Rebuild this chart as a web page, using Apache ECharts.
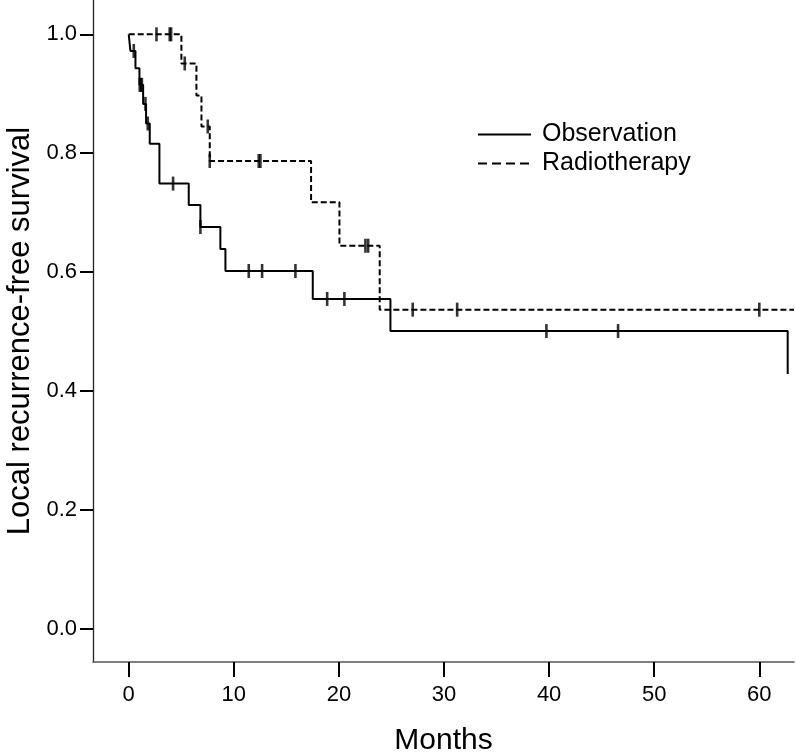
<!DOCTYPE html>
<html>
<head>
<meta charset="utf-8">
<script src="https://cdn.jsdelivr.net/npm/echarts@6/dist/echarts.min.js"></script>
<style>html,body{margin:0;padding:0;background:#fff}#c{width:796px;height:753px}</style>
</head>
<body>
<div id="c"></div>
<script>
// Observation group: event times (months) and survival after each step
const obsT = [0, 0.16, 0.64, 1.02, 1.37, 1.65, 2.0, 2.92, 5.71, 6.82, 8.72, 9.2, 17.51, 24.9, 62.7];
const obsS = [1.0, 0.972, 0.943, 0.915, 0.883, 0.850, 0.816, 0.749, 0.713, 0.676, 0.639, 0.602, 0.555, 0.501, 0.429];
const obsCensT = [0.48, 1.05, 1.15, 1.25, 1.59, 1.81, 4.22, 6.82, 11.42, 12.69, 15.86, 18.88, 20.52, 39.74, 46.56];

// Radiotherapy group
const radT = [0, 5.01, 6.44, 6.92, 7.71, 17.35, 20.05, 23.88, 63.3];
const radS = [1.0, 0.951, 0.897, 0.845, 0.787, 0.7175, 0.6445, 0.537, 0.537];
const radCensT = [2.64, 3.9, 4.03, 5.33, 7.52, 7.71, 12.37, 12.53, 22.52, 22.78, 27.02, 31.25, 60.0];

const xTicks = [0, 10, 20, 30, 40, 50, 60];
const yTicks = [0, 0.2, 0.4, 0.6, 0.8, 1.0];
const seriesNames = ['Observation', 'Radiotherapy'];

function stepAt(T, S, t) {
  let v = S[0];
  for (let i = 0; i < T.length; i++) { if (T[i] <= t) v = S[i]; }
  return v;
}
const pairs = (T, S) => T.map((t, i) => [t, S[i]]);
const cens = (C, T, S) => C.map(t => [t, stepAt(T, S, t)]);

const FONT = 'Liberation Sans, Arial, sans-serif';
const chart = echarts.init(document.getElementById('c'), null, {renderer: 'canvas'});
chart.setOption({
  animation: false,
  backgroundColor: '#fff',
  grid: {left: 93, right: 2, top: 0, bottom: 91, containLabel: false, outerBoundsMode: 'none'},
  legend: {
    orient: 'vertical', left: 472, top: 117, itemGap: 4,
    itemWidth: 53, itemHeight: 2,
    itemStyle: {color: 'rgba(0,0,0,0)', borderWidth: 0},
    textStyle: {fontFamily: FONT, fontSize: 25, color: '#000', padding: [0, 0, 0, 6]},
    data: [
      {name: seriesNames[0]},
      {name: seriesNames[1], lineStyle: {type: [9, 5]}}
    ]
  },
  xAxis: {
    type: 'value', min: -3.4, max: 63.3,
    name: 'Months', nameLocation: 'middle', nameGap: 64,
    nameTextStyle: {fontFamily: FONT, fontSize: 30, color: '#000'},
    axisLine: {onZero: false, lineStyle: {color: '#555', width: 1.5}},
    axisTick: {show: true, length: 15, lineStyle: {color: '#000', width: 2}, customValues: xTicks},
    axisLabel: {fontFamily: FONT, fontSize: 22, color: '#000', margin: 22, customValues: xTicks},
    splitLine: {show: false}
  },
  yAxis: {
    type: 'value', min: -0.0555, max: 1.0577,
    name: 'Local recurrence-free survival', nameLocation: 'middle', nameGap: 57,
    nameTextStyle: {fontFamily: FONT, fontSize: 31, color: '#000'},
    axisLine: {show: true, onZero: false, lineStyle: {color: '#222', width: 1.3}},
    axisTick: {show: true, length: 13, lineStyle: {color: '#000', width: 2}, customValues: yTicks},
    axisLabel: {fontFamily: FONT, fontSize: 22, color: '#000', margin: 16, customValues: yTicks,
      formatter: v => v.toFixed(1)},
    splitLine: {show: false}
  },
  series: [
    {name: seriesNames[0], type: 'line', step: 'end', symbol: 'none', clip: false,
      data: pairs(obsT, obsS), lineStyle: {color: '#000', width: 2, type: 'solid'}, itemStyle: {color: '#000'}},
    {name: seriesNames[1], type: 'line', step: 'end', symbol: 'none', clip: false,
      data: pairs(radT, radS), lineStyle: {color: '#000', width: 2, type: [6, 3]}, itemStyle: {color: '#000'}},
    {name: 'obsCens', type: 'scatter', symbol: 'rect', symbolSize: [2.6, 14],
      data: cens(obsCensT, obsT, obsS), itemStyle: {color: '#000'}},
    {name: 'radCens', type: 'scatter', symbol: 'rect', symbolSize: [2.6, 14],
      data: cens(radCensT, radT, radS), itemStyle: {color: '#000'}}
  ]
});
</script>
</body>
</html>
